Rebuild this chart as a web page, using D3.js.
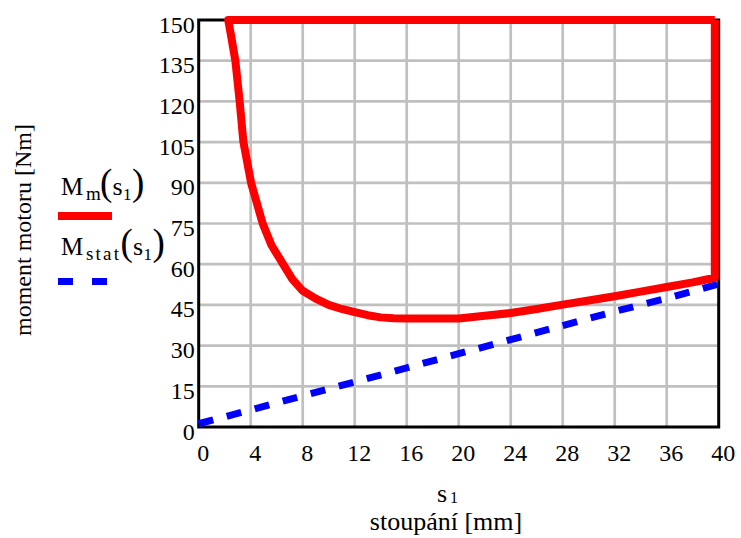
<!DOCTYPE html>
<html>
<head>
<meta charset="utf-8">
<script src="https://cdn.jsdelivr.net/npm/d3@7"></script>
<style>
  html, body { margin: 0; padding: 0; background: #fff; }
  svg { display: block; }
  text { font-family: "Liberation Serif", "Times New Roman", serif; fill: #000; }
</style>
</head>
<body>
<svg id="chart" width="741" height="538"></svg>
<script>
// ---- data ----
const xTicks = [0, 4, 8, 12, 16, 20, 24, 28, 32, 36, 40];
const yTicks = [0, 15, 30, 45, 60, 75, 90, 105, 120, 135, 150];

// M_m(s1) trace, in drawing order (values above 150 are shown on the top edge)
const mmS = [39.7, 2.27, 2.46, 2.82, 3.15, 3.44, 4.03, 4.92, 5.6, 6.49, 7.2, 8, 9, 10, 11, 12, 13, 14, 15, 16, 18, 20, 22, 24, 26, 28, 30, 32, 34, 36, 38, 39.7, 39.7];
const mmV = [150, 150, 145, 135, 120, 105, 90, 75, 67, 60, 54.5, 50.2, 47.3, 45, 43.5, 42.3, 41.2, 40.4, 40.1, 40, 40, 40, 41, 42, 43.5, 45.1, 46.6, 48.2, 49.9, 51.6, 53.3, 55, 150];

// M_stat(s1)
const msS = [0, 4, 8, 12, 16, 20, 24, 28, 32, 36, 40];
const msV = [1.2, 6.3, 11.5, 16.6, 21.8, 27, 32.2, 37.4, 42.6, 47.4, 52.7];

// ---- layout ----
const svg = d3.select("#chart");
const L = 198.7, R = 718.7, T = 20, B = 427;
const x = d3.scaleLinear().domain([0, 40]).range([L, R]);
const y = d3.scaleLinear().domain([0, 150]).range([B, T]);
const FONT = 24;

// grid
const g = svg.append("g");
g.selectAll(".vg").data(xTicks.filter(d => d > 0 && d < 40)).enter()
  .append("line").attr("x1", d => x(d)).attr("x2", d => x(d))
  .attr("y1", T).attr("y2", B).attr("stroke", "#c0c0c0").attr("stroke-width", 2.7);
g.selectAll(".hg").data(yTicks.filter(d => d > 0 && d < 150)).enter()
  .append("line").attr("y1", d => y(d)).attr("y2", d => y(d))
  .attr("x1", L).attr("x2", R).attr("stroke", "#c0c0c0").attr("stroke-width", 2.7);

// border
svg.append("rect").attr("x", L).attr("y", T).attr("width", R - L).attr("height", B - T)
  .attr("fill", "none").attr("stroke", "#000").attr("stroke-width", 3);

// axes labels
const xAxis = svg.append("g").attr("transform", `translate(0,${B})`)
  .call(d3.axisBottom(x).tickValues(xTicks).tickSize(0).tickFormat(d3.format("d")));
xAxis.select(".domain").remove();
xAxis.selectAll("text").attr("y", 34).attr("dy", 0).attr("dx", 4)
  .style("font-size", FONT + "px").style("font-family", "Liberation Serif, serif").attr("fill", "#000");

const yAxis = svg.append("g").attr("transform", `translate(${L},0)`)
  .call(d3.axisLeft(y).tickValues(yTicks).tickSize(0).tickFormat(d3.format("d")));
yAxis.select(".domain").remove();
yAxis.selectAll("text").attr("x", -4).attr("dy", 0).attr("y", 12)
  .style("font-size", FONT + "px").style("font-family", "Liberation Serif, serif").attr("fill", "#000");

// traces
const line = d3.line().x(d => x(d[0])).y(d => y(Math.min(d[1], 150)));
svg.append("path").datum(msS.map((s, i) => [s, msV[i]]))
  .attr("d", line).attr("fill", "none").attr("stroke", "#0000ff")
  .attr("stroke-width", 7).attr("stroke-dasharray", "15,14");
svg.append("path").datum(mmS.map((s, i) => [s, mmV[i]]))
  .attr("d", line).attr("fill", "none").attr("stroke", "#ff0000")
  .attr("stroke-width", 8).attr("stroke-linejoin", "round");

// axis titles
svg.append("text").attr("x", 437).attr("y", 502).style("font-size", "26px").text("s");
svg.append("text").attr("x", 450).attr("y", 503).style("font-size", "16px").text("1");
svg.append("text").attr("x", 446).attr("y", 530).attr("text-anchor", "middle")
  .style("font-size", "26px").text("stoupání [mm]");
svg.append("text").attr("transform", "translate(31,230) rotate(-90)")
  .attr("text-anchor", "middle").style("font-size", FONT + "px").text("moment motoru [Nm]");

// legend
function legendLabel(yBase, sub, subX, subW, parX, sX, oneX, closeX) {
  const t = svg.append("g");
  t.append("text").attr("x", 61).attr("y", yBase).style("font-size", "25px").text("M");
  t.append("text").attr("x", subX).attr("y", yBase + 5).style("font-size", "19px")
    .attr("textLength", subW).attr("lengthAdjust", "spacing").text(sub);
  t.append("text").attr("x", parX).attr("y", yBase).style("font-size", "37px").text("(");
  t.append("text").attr("x", sX).attr("y", yBase).style("font-size", "26px").text("s");
  t.append("text").attr("x", oneX).attr("y", yBase + 5).style("font-size", "17px").text("1");
  t.append("text").attr("x", closeX).attr("y", yBase).style("font-size", "37px").text(")");
}
legendLabel(195, "m", 86, 14, 100, 112.5, 123, 132);
legendLabel(255, "stat", 86, 33, 120.5, 133, 143.5, 152.5);

svg.append("line").attr("x1", 58).attr("x2", 112).attr("y1", 216).attr("y2", 216)
  .attr("stroke", "#ff0000").attr("stroke-width", 8);
svg.append("line").attr("x1", 58).attr("x2", 107).attr("y1", 281.5).attr("y2", 281.5)
  .attr("stroke", "#0000ff").attr("stroke-width", 7).attr("stroke-dasharray", "15,19");
</script>
</body>
</html>
